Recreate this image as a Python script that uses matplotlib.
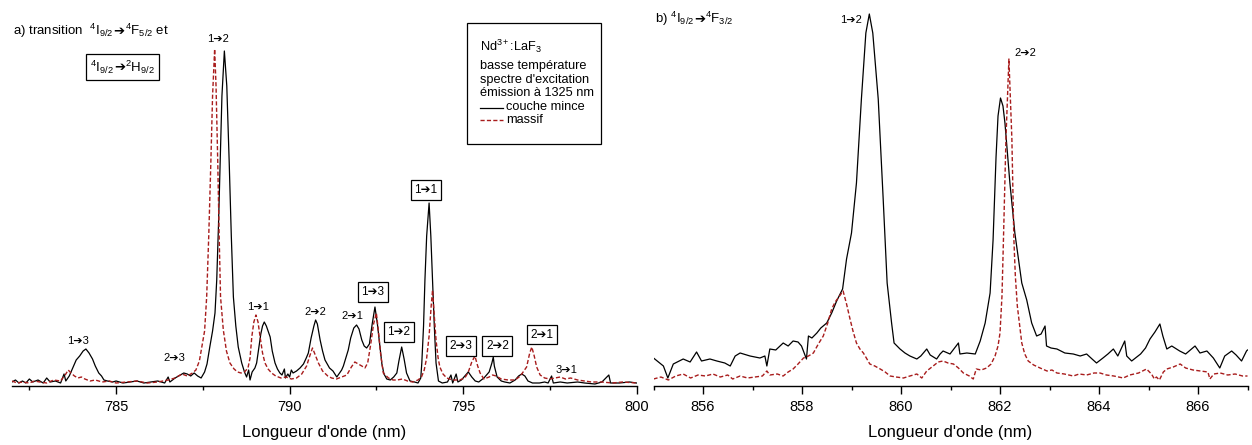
import matplotlib
matplotlib.use("Agg")
import matplotlib.pyplot as plt
from matplotlib.ticker import MultipleLocator
from matplotlib.lines import Line2D
from matplotlib.patches import Rectangle
from matplotlib.offsetbox import TextArea, HPacker, AnnotationBbox

plt.rcParams['font.family'] = ['Liberation Sans', 'DejaVu Sans']
plt.rcParams['mathtext.fontset'] = 'custom'
plt.rcParams['mathtext.rm'] = 'Liberation Sans'
plt.rcParams['mathtext.it'] = 'Liberation Sans:italic'
plt.rcParams['mathtext.bf'] = 'Liberation Sans:bold'

# a) 4I9/2 -> 4F5/2 + 2H9/2, intensity in arbitrary units
wl_a_film = [782.00, 782.10, 782.20, 782.30, 782.40, 782.50, 782.60, 782.75, 782.90, 783.00,
             783.10, 783.25, 783.40, 783.50, 783.55, 783.65, 783.75, 783.85, 783.95, 784.05,
             784.13, 784.22, 784.32, 784.40, 784.50, 784.58, 784.65, 784.75, 784.90, 785.00,
             785.20, 785.40, 785.60, 785.80, 786.00, 786.20, 786.40, 786.50, 786.55, 786.70,
             786.85, 786.95, 787.05, 787.15, 787.25, 787.35, 787.45, 787.55, 787.62, 787.70,
             787.78, 787.85, 787.90, 787.95, 788.00, 788.05, 788.12, 788.19, 788.26, 788.32,
             788.38, 788.45, 788.52, 788.62, 788.70, 788.76, 788.82, 788.86, 788.92, 789.00,
             789.05, 789.12, 789.17, 789.22, 789.27, 789.33, 789.38, 789.44, 789.50, 789.58,
             789.65, 789.72, 789.78, 789.85, 789.88, 789.95, 790.00, 790.05, 790.10, 790.20,
             790.30, 790.40, 790.48, 790.54, 790.62, 790.70, 790.75, 790.80, 790.88, 790.95,
             791.02, 791.07, 791.15, 791.25, 791.36, 791.42, 791.50, 791.55, 791.62, 791.69,
             791.76, 791.85, 791.93, 792.00, 792.08, 792.15, 792.22, 792.30, 792.38, 792.46,
             792.53, 792.60, 792.66, 792.72, 792.80, 792.90, 793.00, 793.09, 793.15, 793.23,
             793.30, 793.37, 793.47, 793.60, 793.70, 793.78, 793.81, 793.86, 793.90, 793.95,
             794.02, 794.07, 794.12, 794.17, 794.22, 794.29, 794.40, 794.55, 794.65, 794.70,
             794.80, 794.85, 794.95, 795.05, 795.15, 795.25, 795.35, 795.45, 795.60, 795.75,
             795.83, 795.87, 795.90, 795.98, 796.10, 796.20, 796.35, 796.50, 796.60, 796.69,
             796.78, 796.87, 797.00, 797.20, 797.35, 797.45, 797.55, 797.60, 797.80, 798.00,
             798.30, 798.50, 798.80, 799.00, 799.20, 799.25, 799.50, 799.80, 800.00]
int_a_film = [4, 6, 3, 5, 3, 7, 4, 6, 3, 8,
              4, 5, 3, 12, 5, 10, 18, 26, 30, 35,
              37, 33, 27, 20, 13, 10, 6, 5, 4, 5,
              3, 4, 5, 3, 4, 5, 3, 9, 4, 8,
              11, 13, 12, 10, 13, 10, 8, 14, 22, 39,
              55, 73, 106, 160, 223, 290, 335, 300, 223, 150,
              89, 60, 39, 23, 14, 9, 16, 6, 14, 18,
              23, 40, 52, 60, 64, 60, 55, 49, 35, 23,
              17, 13, 11, 17, 8, 12, 9, 16, 13, 15,
              18, 22, 28, 33, 48, 60, 66, 62, 46, 35,
              26, 23, 18, 15, 9, 12, 16, 20, 28, 36,
              48, 58, 61, 57, 46, 40, 38, 42, 62, 79,
              62, 40, 22, 12, 7, 6, 9, 13, 25, 39,
              27, 13, 5, 4, 3, 8, 23, 60, 106, 150,
              183, 150, 106, 60, 23, 5, 3, 4, 11, 3,
              12, 4, 6, 10, 14, 9, 5, 4, 8, 14,
              23, 29, 20, 9, 5, 4, 3, 6, 10, 12,
              10, 5, 3, 3, 4, 3, 10, 3, 4, 3,
              4, 3, 2, 4, 11, 3, 3, 4, 3]

wl_a_bulk = [782.00, 782.15, 782.30, 782.50, 782.65, 782.80, 783.00, 783.20, 783.40, 783.55,
             783.62, 783.70, 783.80, 783.90, 784.00, 784.10, 784.25, 784.40, 784.60, 784.80,
             785.00, 785.30, 785.60, 785.90, 786.20, 786.50, 786.70, 786.90, 787.05, 787.20,
             787.30, 787.40, 787.47, 787.55, 787.61, 787.67, 787.73, 787.78, 787.84, 787.88,
             787.93, 787.97, 788.01, 788.09, 788.18, 788.28, 788.40, 788.50, 788.60, 788.70,
             788.80, 788.86, 788.91, 788.97, 789.03, 789.09, 789.15, 789.22, 789.29, 789.38,
             789.48, 789.60, 789.75, 789.90, 790.05, 790.20, 790.35, 790.49, 790.58, 790.66,
             790.74, 790.83, 790.95, 791.10, 791.21, 791.35, 791.50, 791.65, 791.78, 791.88,
             791.98, 792.08, 792.17, 792.25, 792.33, 792.42, 792.50, 792.56, 792.62, 792.70,
             792.85, 792.98, 793.10, 793.25, 793.40, 793.55, 793.70, 793.80, 793.88, 793.95,
             794.02, 794.08, 794.12, 794.16, 794.22, 794.28, 794.33, 794.42, 794.53, 794.70,
             794.90, 795.05, 795.15, 795.25, 795.34, 795.42, 795.49, 795.60, 795.75, 795.85,
             795.95, 796.10, 796.30, 796.50, 796.65, 796.75, 796.83, 796.92, 796.98, 797.05,
             797.12, 797.22, 797.35, 797.50, 797.65, 797.80, 797.95, 798.10, 798.30, 798.50,
             798.70, 799.00, 799.30, 799.60, 800.00]
int_a_bulk = [5, 3, 4, 3, 5, 4, 3, 6, 5, 12,
              16, 13, 10, 8, 9, 7, 5, 6, 4, 5,
              3, 4, 5, 3, 4, 6, 8, 12, 10, 13,
              16, 25, 39, 55, 89, 150, 223, 290, 337, 300,
              223, 150, 89, 56, 35, 23, 17, 14, 13, 14,
              18, 28, 49, 64, 71, 64, 49, 33, 23, 17,
              13, 10, 8, 9, 7, 8, 12, 20, 30, 38,
              31, 23, 15, 10, 8, 7, 9, 11, 19, 24,
              22, 20, 18, 23, 40, 62, 73, 55, 33, 13,
              8, 6, 6, 7, 5, 4, 6, 9, 16, 28,
              50, 80, 96, 75, 46, 28, 19, 12, 8, 6,
              6, 8, 14, 24, 30, 20, 13, 7, 9, 11,
              10, 7, 6, 6, 10, 15, 19, 33, 39, 30,
              19, 11, 8, 7, 8, 9, 7, 8, 6, 5,
              4, 4, 3, 4, 3]

# b) 4I9/2 -> 4F3/2
wl_b_film = [855.00, 855.20, 855.29, 855.40, 855.60, 855.74, 855.87, 855.97, 856.14, 856.28,
             856.44, 856.55, 856.65, 856.75, 856.95, 857.15, 857.25, 857.29, 857.35, 857.47,
             857.62, 857.72, 857.82, 857.92, 857.99, 858.09, 858.13, 858.20, 858.30, 858.38,
             858.50, 858.60, 858.70, 858.82, 858.90, 859.00, 859.10, 859.20, 859.29, 859.36,
             859.43, 859.54, 859.64, 859.72, 859.81, 859.86, 859.92, 859.98, 860.08, 860.18,
             860.32, 860.40, 860.52, 860.59, 860.72, 860.79, 860.85, 860.99, 861.16, 861.19,
             861.33, 861.50, 861.60, 861.70, 861.80, 861.86, 861.92, 861.96, 862.01, 862.06,
             862.10, 862.20, 862.30, 862.44, 862.54, 862.64, 862.74, 862.83, 862.91, 862.94,
             863.03, 863.15, 863.31, 863.48, 863.62, 863.75, 863.86, 863.95, 864.08, 864.18,
             864.29, 864.38, 864.52, 864.56, 864.66, 864.84, 864.94, 865.03, 865.13, 865.23,
             865.29, 865.37, 865.47, 865.63, 865.75, 865.94, 866.04, 866.18, 866.31, 866.44,
             866.54, 866.68, 866.77, 866.88, 866.98, 867.00]
int_b_film = [28, 20, 8, 22, 27, 24, 34, 25, 27, 25,
              23, 20, 30, 33, 30, 28, 30, 20, 37, 36,
              43, 40, 45, 44, 40, 27, 50, 48, 53, 58,
              63, 73, 85, 97, 127, 153, 203, 287, 353, 372,
              353, 287, 187, 103, 63, 43, 40, 37, 33, 30,
              27, 30, 37, 31, 27, 32, 35, 32, 43, 32,
              33, 32, 45, 63, 93, 146, 229, 270, 288, 280,
              263, 203, 153, 103, 86, 63, 50, 52, 60, 40,
              38, 37, 33, 32, 30, 32, 27, 23, 28, 32,
              37, 30, 45, 30, 25, 32, 38, 47, 54, 62,
              50, 37, 40, 35, 32, 40, 33, 35, 28, 18,
              30, 35, 31, 25, 35, 36]

wl_b_bulk = [855.00, 855.15, 855.30, 855.45, 855.60, 855.75, 855.90, 856.05, 856.20, 856.35,
             856.50, 856.60, 856.75, 856.90, 857.05, 857.20, 857.29, 857.35, 857.50, 857.62,
             857.72, 857.82, 857.92, 858.03, 858.13, 858.23, 858.33, 858.43, 858.52, 858.60,
             858.67, 858.73, 858.83, 858.90, 858.97, 859.03, 859.10, 859.17, 859.24, 859.30,
             859.37, 859.47, 859.58, 859.68, 859.78, 859.90, 860.05, 860.18, 860.32, 860.42,
             860.52, 860.65, 860.75, 860.85, 860.95, 861.06, 861.16, 861.26, 861.38, 861.46,
             861.52, 861.62, 861.73, 861.82, 861.90, 861.96, 862.00, 862.04, 862.07, 862.12,
             862.18, 862.24, 862.28, 862.31, 862.35, 862.44, 862.50, 862.57, 862.68, 862.81,
             862.95, 863.05, 863.15, 863.30, 863.48, 863.60, 863.75, 863.90, 864.02, 864.15,
             864.30, 864.49, 864.62, 864.80, 864.96, 865.06, 865.12, 865.16, 865.22, 865.30,
             865.37, 865.50, 865.64, 865.75, 865.90, 866.05, 866.20, 866.24, 866.32, 866.45,
             866.60, 866.75, 866.90, 867.00]
int_b_bulk = [7, 9, 6, 10, 12, 8, 11, 10, 12, 9,
              11, 7, 10, 8, 9, 10, 15, 11, 12, 10,
              14, 17, 22, 28, 30, 33, 42, 50, 63, 77,
              84, 88, 95, 82, 67, 55, 43, 37, 33, 28,
              22, 20, 17, 14, 10, 9, 8, 10, 12, 8,
              15, 20, 24, 25, 23, 22, 18, 13, 10, 7,
              17, 16, 18, 22, 30, 40, 53, 90, 147, 247,
              327, 247, 147, 110, 80, 43, 32, 25, 21, 18,
              15, 16, 13, 12, 10, 12, 11, 13, 13, 11,
              10, 8, 11, 13, 17, 12, 7, 9, 6, 14,
              17, 19, 22, 18, 16, 15, 14, 7, 12, 13,
              11, 12, 10, 10]

ARR = "\u2794"
labels_a = ["1" + ARR + "3", "2" + ARR + "3", "1" + ARR + "2", "1" + ARR + "1",
            "2" + ARR + "2", "2" + ARR + "1", "3" + ARR + "1"]
labels_a_pos = [(783.89, 45), (786.67, 28), (787.94, 347), (789.09, 79),
                (790.73, 74), (791.80, 70), (797.97, 16)]
boxed_a = ["1" + ARR + "3", "1" + ARR + "2", "1" + ARR + "1",
           "2" + ARR + "3", "2" + ARR + "2", "2" + ARR + "1"]
boxed_a_pos = [(792.40, 94), (793.14, 54), (793.93, 196),
               (794.93, 40), (795.99, 40), (797.27, 51.5)]
labels_b = ["1" + ARR + "2", "2" + ARR + "2"]
labels_b_pos = [(858.99, 366), (862.51, 333)]

W, H = 1252, 445
red = '#a81c1c'
dash = (0, (3, 1.6))

fig = plt.figure(figsize=(W / 100, H / 100), dpi=100)


def fx(x):
    return x / W


def fy(y):
    return 1 - y / H


def term_text(parts, x, y, align, boxed=False, size=9.5):
    # mathtext can't fall back to DejaVu for the arrow, so pack pieces on a baseline
    areas = [TextArea(p, textprops=dict(fontsize=size)) for p in parts]
    pack = HPacker(children=areas, align='baseline', pad=0, sep=0)
    ab = AnnotationBbox(pack, (fx(x), fy(y)), xycoords='figure fraction',
                        box_alignment=align, frameon=boxed, pad=0.45,
                        bboxprops=dict(boxstyle='square', ec='black', fc='white', lw=0.9))
    fig.add_artist(ab)


ax1 = fig.add_axes([fx(12), fy(386), 624.6 / W, 386 / H])
ax2 = fig.add_axes([fx(653.5), fy(386), 594 / W, 386 / H])

ax1.plot(wl_a_film, int_a_film, color='black', lw=0.9)
ax1.plot(wl_a_bulk, int_a_bulk, color=red, lw=1.0, ls=dash)
ax2.plot(wl_b_film, int_b_film, color='black', lw=0.9)
ax2.plot(wl_b_bulk, int_b_bulk, color=red, lw=1.0, ls=dash)

ax1.set_xlim(782, 800)
ax2.set_xlim(855, 867)
ax1.xaxis.set_major_locator(MultipleLocator(5))
ax1.xaxis.set_minor_locator(MultipleLocator(2.5))
ax2.xaxis.set_major_locator(MultipleLocator(2))
ax2.xaxis.set_minor_locator(MultipleLocator(1))

for ax in (ax1, ax2):
    ax.set_ylim(0, 386)
    ax.patch.set_alpha(0)
    for s in ('left', 'right', 'top'):
        ax.spines[s].set_visible(False)
    ax.spines['bottom'].set_linewidth(1.0)
    ax.set_yticks([])
    ax.tick_params(axis='x', which='major', direction='out', length=6, width=1,
                   labelsize=10.5, pad=4)
    ax.tick_params(axis='x', which='minor', direction='out', length=3, width=1)
    ax.set_xlabel("Longueur d'onde (nm)", fontsize=12, labelpad=8)

for t, (x, y) in zip(labels_a, labels_a_pos):
    ax1.text(x, y, t, fontsize=8, ha='center', va='center')
for t, (x, y) in zip(boxed_a, boxed_a_pos):
    ax1.text(x, y, t, fontsize=8.5, ha='center', va='center',
             bbox=dict(boxstyle='square,pad=0.3', fc='white', ec='black', lw=0.9))
for t, (x, y) in zip(labels_b, labels_b_pos):
    ax2.text(x, y, t, fontsize=8, ha='center', va='center')

term_text(["a) transition  $^{4}$I$_{9/2}$", ARR, "$^{4}$F$_{5/2}$ et"], 13, 31, (0, 0.5))
term_text(["$^{4}$I$_{9/2}$", ARR, "$^{2}$H$_{9/2}$"], 122.5, 67, (0.5, 0.5), boxed=True)
term_text(["b) $^{4}$I$_{9/2}$", ARR, "$^{4}$F$_{3/2}$"], 655, 19, (0, 0.5))

# legend box
fig.add_artist(Rectangle((fx(467), fy(144)), 134 / W, 121 / H, transform=fig.transFigure,
                         fc='white', ec='black', lw=0.9))
fig.text(fx(480), fy(46), r"Nd$^{3+}$:LaF$_{3}$", fontsize=9.2, va='center')
fig.text(fx(480), fy(65.5), "basse température", fontsize=9.2, va='center')
fig.text(fx(480), fy(79.5), "spectre d'excitation", fontsize=9.2, va='center')
fig.text(fx(480), fy(93.5), "émission à 1325 nm", fontsize=9.2, va='center')
fig.add_artist(Line2D([fx(480), fx(503)], [fy(107.5), fy(107.5)], color='black', lw=0.9))
fig.text(fx(506), fy(107.5), "couche mince", fontsize=9.2, va='center')
fig.add_artist(Line2D([fx(480), fx(503)], [fy(120.5), fy(120.5)], color=red, lw=1.0, ls=dash))
fig.text(fx(506), fy(120.5), "massif", fontsize=9.2, va='center')

fig.savefig("out.png", dpi=100)
